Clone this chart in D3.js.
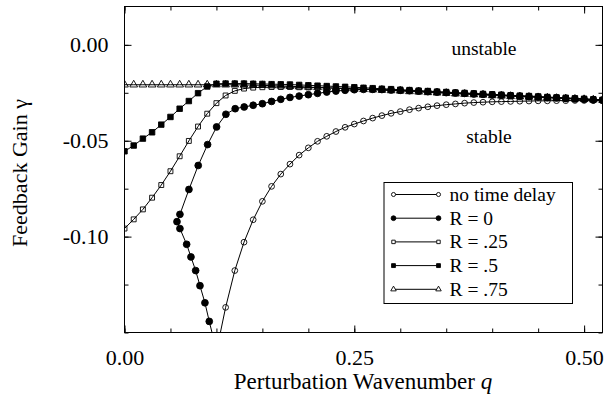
<!DOCTYPE html>
<html>
<head>
<meta charset="utf-8">
<script src="https://cdn.jsdelivr.net/npm/d3@7"></script>
<style>
  body { margin: 0; background: #fff; }
  svg text { font-family: "Liberation Serif", "Times New Roman", Times, "Nimbus Roman", "DejaVu Serif", serif; fill: #000; }
  .frame { fill: none; stroke: #000; stroke-width: 1; }
  .curve { fill: none; stroke: #000; stroke-width: 1; }
</style>
</head>
<body>
<svg width="605" height="395"></svg>
<script>
var svg = d3.select("svg"),
    width = +svg.attr("width"),
    height = +svg.attr("height"),
    serif = "'Liberation Serif', 'Times New Roman', Times, 'Nimbus Roman', 'DejaVu Serif', serif";

// wavenumber grid shared by the delayed curves
var qGrid = [0.00, 0.01, 0.02, 0.03, 0.04, 0.05, 0.06, 0.07, 0.08, 0.09,
             0.10, 0.11, 0.12, 0.13, 0.14, 0.15, 0.16, 0.17, 0.18, 0.19,
             0.20, 0.21, 0.22, 0.23, 0.24, 0.25, 0.26, 0.27, 0.28, 0.29,
             0.30, 0.31, 0.32, 0.33, 0.34, 0.35, 0.36, 0.37, 0.38, 0.39,
             0.40, 0.41, 0.42, 0.43, 0.44, 0.45, 0.46, 0.47, 0.48, 0.49,
             0.50, 0.51, 0.52];

var gainR75 = [-0.0208, -0.0208, -0.0208, -0.0208, -0.0208, -0.0208, -0.0208, -0.0208, -0.0208, -0.0208,
               -0.0208, -0.0208, -0.0208, -0.0209, -0.0210, -0.0211, -0.0213, -0.0214, -0.0216, -0.0218,
               -0.0220, -0.0222, -0.0224, -0.0226, -0.0228, -0.0230, -0.0232, -0.0234, -0.0236, -0.0238,
               -0.0240, -0.0243, -0.0245, -0.0248, -0.0250, -0.0252, -0.0255, -0.0257, -0.0259, -0.0261,
               -0.0264, -0.0266, -0.0268, -0.0270, -0.0272, -0.0274, -0.0276, -0.0278, -0.0280, -0.0282,
               -0.0284, -0.0286, -0.0288];

var gainR50 = [-0.0555, -0.0525, -0.0489, -0.0456, -0.0416, -0.0376, -0.0333, -0.0293, -0.0252, -0.0217,
               -0.0203, -0.0202, -0.0202, -0.0202, -0.0203, -0.0204, -0.0205, -0.0206, -0.0207, -0.0209,
               -0.0211, -0.0213, -0.0215, -0.0217, -0.0219, -0.0221, -0.0224, -0.0226, -0.0229, -0.0231,
               -0.0234, -0.0236, -0.0239, -0.0241, -0.0244, -0.0246, -0.0249, -0.0251, -0.0253, -0.0256,
               -0.0258, -0.0260, -0.0263, -0.0265, -0.0267, -0.0269, -0.0272, -0.0274, -0.0276, -0.0279,
               -0.0281, -0.0284, -0.0287];

var gainR25 = [-0.0958, -0.0910, -0.0858, -0.0797, -0.0731, -0.0659, -0.0581, -0.0501, -0.0426, -0.0359,
               -0.0304, -0.0264, -0.0240, -0.0228, -0.0223, -0.0221, -0.0220, -0.0220, -0.0220, -0.0221,
               -0.0222, -0.0223, -0.0224, -0.0226, -0.0227, -0.0229, -0.0231, -0.0233, -0.0235, -0.0237,
               -0.0239, -0.0241, -0.0243, -0.0246, -0.0248, -0.0250, -0.0252, -0.0254, -0.0257, -0.0259,
               -0.0261, -0.0263, -0.0265, -0.0267, -0.0269, -0.0272, -0.0274, -0.0276, -0.0278, -0.0281,
               -0.0283, -0.0285, -0.0287];

// R = 0 folds back on itself, so it keeps its own q values
var qR0 = [0.0975, 0.0922, 0.0875, 0.0821, 0.0774, 0.0723, 0.0676, 0.0603, 0.0571, 0.0603,
           0.0701, 0.0802, 0.0904, 0.1002, 0.1103, 0.1204, 0.1302, 0.14, 0.15, 0.16,
           0.17, 0.18, 0.19, 0.20, 0.21, 0.22, 0.23, 0.24, 0.25, 0.26,
           0.27, 0.28, 0.29, 0.30, 0.31, 0.32, 0.33, 0.34, 0.35, 0.36,
           0.37, 0.38, 0.39, 0.40, 0.41, 0.42, 0.43, 0.44, 0.45, 0.46,
           0.47, 0.48, 0.49, 0.50, 0.51, 0.52];
var gainR0 = [-0.1545, -0.1442, -0.1345, -0.1256, -0.1177, -0.1106, -0.1040, -0.0958, -0.0922, -0.0884,
              -0.0754, -0.0629, -0.0520, -0.0428, -0.0362, -0.0333, -0.0324, -0.0315, -0.0307, -0.0295,
              -0.0284, -0.0274, -0.0267, -0.0260, -0.0253, -0.0246, -0.0241, -0.0237, -0.0234, -0.0232,
              -0.0232, -0.0233, -0.0235, -0.0237, -0.0239, -0.0241, -0.0244, -0.0246, -0.0249, -0.0251,
              -0.0253, -0.0256, -0.0258, -0.0261, -0.0263, -0.0265, -0.0268, -0.0270, -0.0272, -0.0275,
              -0.0277, -0.0280, -0.0282, -0.0284, -0.0287, -0.0289];

var qNoDelay = [0.10, 0.11, 0.12, 0.13, 0.14, 0.15, 0.16, 0.17, 0.18, 0.19,
                0.20, 0.21, 0.22, 0.23, 0.24, 0.25, 0.26, 0.27, 0.28, 0.29,
                0.30, 0.31, 0.32, 0.33, 0.34, 0.35, 0.36, 0.37, 0.38, 0.39,
                0.40, 0.41, 0.42, 0.43, 0.44, 0.45, 0.46, 0.47, 0.48, 0.49,
                0.50, 0.51, 0.52];
var gainNoDelay = [-0.1600, -0.1369, -0.1177, -0.1029, -0.0912, -0.0816, -0.0738, -0.0674, -0.0622, -0.0575,
                   -0.0537, -0.0503, -0.0477, -0.0452, -0.0430, -0.0413, -0.0397, -0.0382, -0.0369, -0.0357,
                   -0.0348, -0.0338, -0.0330, -0.0323, -0.0317, -0.0312, -0.0308, -0.0304, -0.0301, -0.0299,
                   -0.0297, -0.0296, -0.0295, -0.0294, -0.0293, -0.0292, -0.0292, -0.0291, -0.0291, -0.0290,
                   -0.0290, -0.0290, -0.0290];

var seriesNames = ["no time delay", "R = 0", "R = .25", "R = .5", "R = .75"];
var xTicks = [0, 0.25, 0.5],
    yTicks = [0, -0.05, -0.10];

// plain hyphen for negatives, as in the original
var fmt = function (v) { return d3.format(".2f")(v).replace("\u2212", "-"); };

var series = [
  { name: seriesNames[0], q: qNoDelay, g: gainNoDelay, shape: d3.symbolCircle, filled: false },
  { name: seriesNames[1], q: qR0, g: gainR0, shape: d3.symbolCircle, filled: true },
  { name: seriesNames[2], q: qGrid, g: gainR25, shape: d3.symbolSquare, filled: false },
  { name: seriesNames[3], q: qGrid, g: gainR50, shape: d3.symbolSquare, filled: true },
  { name: seriesNames[4], q: qGrid, g: gainR75, shape: d3.symbolTriangle, filled: false }
];

var plot = { left: 124.5, right: 602.5, top: 6.5, bottom: 332.5 };

var x = d3.scaleLinear().domain([0, 0.52]).range([plot.left, plot.right]);
var y = d3.scaleLinear().domain([-0.15, 0.02]).range([plot.bottom, plot.top]);

// marker sizes (area) for plot and legend
function markSize(s, legend) {
  var k = legend ? 0.5 : 1;
  if (s.shape === d3.symbolCircle) return (s.filled ? 36 : 26) * k;
  if (s.shape === d3.symbolSquare) return (s.filled ? 30 : 24) * k;
  return 26 * k;
}

svg.append("defs").append("clipPath")
    .attr("id", "clip")
  .append("rect")
    .attr("x", plot.left)
    .attr("y", plot.top)
    .attr("width", plot.right - plot.left)
    .attr("height", plot.bottom - plot.top);

// ticks, inward on all four sides
var minorX = d3.range(0, 0.5201, 0.05),
    minorY = d3.range(-0.15, 0.0201, 0.025);

svg.append("g").attr("class", "axis x-bottom")
    .attr("transform", "translate(0," + plot.bottom + ")")
    .call(d3.axisBottom(x).tickValues(minorX).tickSize(-4).tickFormat(""));
svg.append("g").attr("class", "axis x-bottom-major")
    .attr("transform", "translate(0," + plot.bottom + ")")
    .call(d3.axisBottom(x).tickValues(xTicks).tickSize(-7).tickPadding(17).tickFormat(fmt));
svg.append("g").attr("class", "axis x-top")
    .attr("transform", "translate(0," + plot.top + ")")
    .call(d3.axisTop(x).tickValues(minorX).tickSize(-4).tickFormat(""));
svg.append("g").attr("class", "axis x-top-major")
    .attr("transform", "translate(0," + plot.top + ")")
    .call(d3.axisTop(x).tickValues(xTicks).tickSize(-7).tickFormat(""));

svg.append("g").attr("class", "axis y-left")
    .attr("transform", "translate(" + plot.left + ",0)")
    .call(d3.axisLeft(y).tickValues(minorY).tickSize(-4).tickFormat(""));
svg.append("g").attr("class", "axis y-left-major")
    .attr("transform", "translate(" + plot.left + ",0)")
    .call(d3.axisLeft(y).tickValues(yTicks).tickSize(-7).tickPadding(16).tickFormat(fmt));
svg.append("g").attr("class", "axis y-right")
    .attr("transform", "translate(" + plot.right + ",0)")
    .call(d3.axisRight(y).tickValues(minorY).tickSize(-4).tickFormat(""));
svg.append("g").attr("class", "axis y-right-major")
    .attr("transform", "translate(" + plot.right + ",0)")
    .call(d3.axisRight(y).tickValues(yTicks).tickSize(-7).tickFormat(""));

svg.selectAll(".axis .domain").remove();
svg.selectAll(".axis").attr("font-family", serif).attr("font-size", 22);
svg.selectAll(".axis line").attr("stroke", "#000");
svg.selectAll(".axis text").attr("fill", "#000");

svg.append("rect")
    .attr("class", "frame")
    .attr("x", plot.left)
    .attr("y", plot.top)
    .attr("width", plot.right - plot.left)
    .attr("height", plot.bottom - plot.top);

// curves
var line = d3.line()
    .x(function (d) { return x(d[0]); })
    .y(function (d) { return y(d[1]); });

var g = svg.append("g").attr("clip-path", "url(#clip)");

series.forEach(function (s) {
  var pts = s.q.map(function (q, i) { return [q, s.g[i]]; });
  var sg = g.append("g").attr("class", "series");
  sg.append("path")
      .datum(pts)
      .attr("class", "curve")
      .attr("d", line);
  sg.selectAll("path.mark")
      .data(pts)
    .enter().append("path")
      .attr("class", "mark")
      .attr("transform", function (d) { return "translate(" + x(d[0]) + "," + y(d[1]) + ")"; })
      .attr("d", d3.symbol().type(s.shape).size(markSize(s, false)))
      .attr("fill", s.filled ? "#000" : "none")
      .attr("stroke", "#000")
      .attr("stroke-width", 0.9);
});

// annotations
svg.append("text")
    .attr("x", 484).attr("y", 55)
    .attr("text-anchor", "middle")
    .attr("font-family", serif)
    .attr("font-size", 19.5)
    .text("unstable");
svg.append("text")
    .attr("x", 489).attr("y", 143)
    .attr("text-anchor", "middle")
    .attr("font-family", serif)
    .attr("font-size", 19.5)
    .text("stable");

// axis titles
svg.append("text")
    .attr("transform", "translate(27,173) rotate(-90)")
    .attr("text-anchor", "middle")
    .attr("font-family", serif)
    .attr("font-size", 22)
    .text("Feedback Gain \u03b3");

var xt = svg.append("text")
    .attr("x", 363).attr("y", 389)
    .attr("text-anchor", "middle")
    .attr("font-family", serif)
    .attr("font-size", 23);
xt.append("tspan").text("Perturbation Wavenumber ");
xt.append("tspan").attr("font-style", "italic").text("q");

// legend
var legend = svg.append("g").attr("class", "legend");
legend.append("rect")
    .attr("x", 384).attr("y", 182.5)
    .attr("width", 188.5).attr("height", 121)
    .attr("fill", "#fff")
    .attr("stroke", "#000");

var rows = legend.selectAll("g.row")
    .data(series)
  .enter().append("g")
    .attr("class", "row")
    .attr("transform", function (d, i) { return "translate(0," + (194.5 + i * 23.7) + ")"; });
rows.append("line")
    .attr("x1", 393.5).attr("x2", 438.5)
    .attr("stroke", "#000");
rows.each(function (s) {
  d3.select(this).selectAll("path")
      .data([393.5, 438.5])
    .enter().append("path")
      .attr("transform", function (d) { return "translate(" + d + ",0)"; })
      .attr("d", d3.symbol().type(s.shape).size(markSize(s, true)))
      .attr("fill", s.filled ? "#000" : "#fff")
      .attr("stroke", "#000")
      .attr("stroke-width", 0.9);
});
rows.append("text")
    .attr("x", 449.5).attr("y", 6.5)
    .attr("font-family", serif)
    .attr("font-size", 19.5)
    .text(function (d) { return d.name; });
</script>
</body>
</html>
